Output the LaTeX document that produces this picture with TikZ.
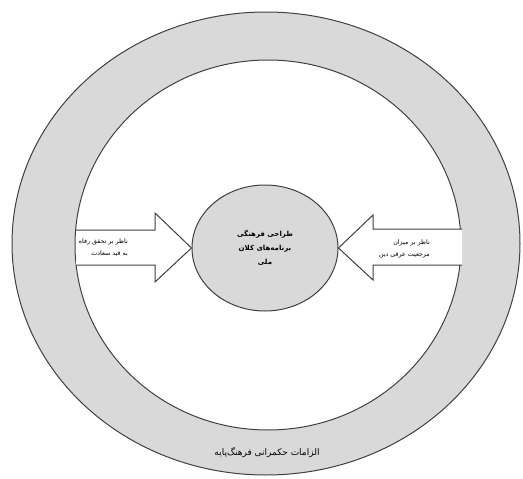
\documentclass[tikz,border=0pt]{standalone}
\usepackage{fontspec}
\newfontfamily\arabicfont[Script=Arabic]{DejaVu Sans}
\TeXXeTstate=1
\usetikzlibrary{positioning,shapes,calc}

\begin{document}
\begin{tikzpicture}[x=1pt,y=-1pt,
                ring line/.style={draw=black!75,line width=1pt},
                arrow box/.style={ring line,fill=white},
                fa text/.style={font=\arabicfont\fontsize{6.3}{12}\selectfont,align=right,inner sep=0pt},
                core node/.style={ellipse,ring line,fill=gray!30,minimum width=146pt,minimum height=126pt,inner sep=0pt,
                                  font=\arabicfont\bfseries\fontsize{7}{14}\selectfont,align=center}]
            \useasboundingbox (0,0) rectangle (523,479);
            % outer and inner ring
            \draw[ring line,fill=gray!30] (266,243.5) ellipse [x radius=254,y radius=231.5];
            \draw[ring line,fill=white] (268,245) ellipse [x radius=193,y radius=185];
            \node[core node] (core) at (265,248) {\beginR طراحی فرهنگی\endR\\\beginR برنامه‌های کلان\endR\\\beginR ملی\endR};
            % the two arrows
            \draw[arrow box] (76,230) -- (155,230) -- (155,213) -- (core.west) -- (155,282) -- (155,265) -- (76,265);
            \draw[arrow box] (462,229) -- (373,229) -- (373,215) -- (core.east) -- (373,280) -- (373,265) -- (462,265);
            \node[fa text,anchor=east] (welfare) at (128,248) {\beginR ناظر بر تحقق رفاه\endR\\\beginR به قید سعادت\endR};
            \node[fa text,anchor=east] (religion) at (430,249) {\beginR ناظر بر میزان\endR\\\beginR مرجعیت عرفی دین\endR};
            \node[fa text,font=\arabicfont\fontsize{9}{12}\selectfont] (rules) at (267,453) {\beginR الزامات حکمرانی فرهنگ‌پایه\endR};
        \end{tikzpicture}
\end{document}
